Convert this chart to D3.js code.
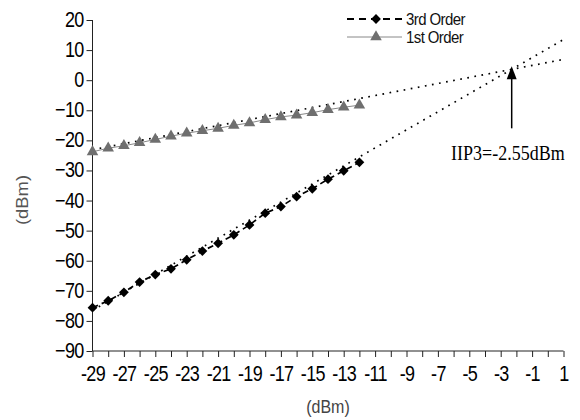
<!DOCTYPE html>
<html>
<head>
<meta charset="utf-8">
<script src="https://cdn.jsdelivr.net/npm/d3@7"></script>
<style>
  body { margin: 0; background: #fff; }
  text { font-family: "Liberation Sans", Arial, sans-serif; }
</style>
</head>
<body>
<div id="chart"></div>
<script>
// input power (dBm)
var inputPower = [-29, -28, -27, -26, -25, -24, -23, -22, -21, -20, -19, -18, -17, -16, -15, -14, -13, -12];
// measured output, 3rd order products
var thirdOrder = [-75.6, -73.3, -70.5, -67.1, -64.6, -62.7, -59.7, -56.8, -54.2, -51.4, -48.1, -44.2, -42.0, -38.7, -36.1, -32.9, -30.1, -27.3];
// measured output, fundamental
var firstOrder = [-23.8, -22.6, -21.8, -20.8, -19.7, -18.6, -17.6, -16.8, -16.0, -15.0, -14.2, -13.1, -12.2, -11.6, -10.8, -9.8, -9.0, -8.3];

// extrapolated lines (slope, intercept)
var trendThird = [3, 10.5];
var trendFirst = [1, 5.9];
var trendRange = [-29, 1];

var xTicks = d3.range(-29, 2, 1);
var xLabels = d3.range(-29, 2, 2);
var yTicks = d3.range(-90, 21, 10);
var iip3Label = "IIP3=-2.55dBm";

var width = 580,
    height = 420;

var svg = d3.select("#chart")
    .append("svg")
    .attr("width", width)
    .attr("height", height);

var x = d3.scaleLinear().domain([-29, 1]).range([92.5, 563.5]);
var y = d3.scaleLinear().domain([-90, 20]).range([351, 20]);

// axes
var xAxis = d3.axisBottom(x)
    .tickValues(xTicks)
    .tickSize(6)
    .tickFormat(function (d) { return xLabels.indexOf(d) >= 0 ? d : ""; });

var yAxis = d3.axisLeft(y)
    .tickValues(yTicks)
    .tickSize(6)
    .tickFormat(d3.format("d"));

var gx = svg.append("g")
    .attr("transform", "translate(0," + y(-90) + ")")
    .call(xAxis);
gx.select(".domain").attr("d", "M" + x(-29) + ",0H" + x(1));
gx.selectAll("text")
    .attr("y", 18.5)
    .attr("dy", "0.36em")
    .attr("transform", "scale(1,1.2)")
    .style("font-size", "18px")
    .style("letter-spacing", "-0.7px")
    .attr("fill", "#000");

var gy = svg.append("g")
    .attr("transform", "translate(" + x(-29) + ",0)")
    .call(yAxis);
gy.select(".domain").attr("d", "M0," + y(20) + "V" + y(-90));
gy.selectAll("text")
    .attr("x", -9)
    .attr("dy", "0.3em")
    .attr("transform", "scale(1,1.2)")
    .style("font-size", "18px")
    .style("letter-spacing", "-0.7px")
    .attr("fill", "#000");

svg.selectAll(".domain, .tick line").attr("stroke", "#222");

// axis titles
svg.append("text")
    .attr("transform", "translate(" + (x(-29) + x(1)) / 2 + ",413) scale(1,1.15)")
    .attr("text-anchor", "middle")
    .style("font-size", "16px")
    .attr("fill", "#444")
    .text("(dBm)");

svg.append("text")
    .attr("transform", "translate(28,200) rotate(-90) scale(1.15,1)")
    .attr("text-anchor", "middle")
    .style("font-size", "16px")
    .attr("fill", "#555")
    .text("(dBm)");

// trend lines (dotted)
function trendLine(t) {
    return trendRange.map(function (v) { return [x(v), y(t[0] * v + t[1])]; });
}
[trendThird, trendFirst].forEach(function (t) {
    svg.append("path")
        .attr("d", d3.line()(trendLine(t)))
        .attr("fill", "none")
        .attr("stroke", "#000")
        .attr("stroke-width", 1.7)
        .attr("stroke-dasharray", "1.7,5.5");
});

var line = d3.line()
    .x(function (d) { return x(d[0]); })
    .y(function (d) { return y(d[1]); });

var firstPts = inputPower.map(function (v, i) { return [v, firstOrder[i]]; });
var thirdPts = inputPower.map(function (v, i) { return [v, thirdOrder[i]]; });

// 1st order series
svg.append("path")
    .attr("d", line(firstPts))
    .attr("fill", "none")
    .attr("stroke", "#888")
    .attr("stroke-width", 1);

var tri = d3.symbol().type(d3.symbolTriangle).size(58);
svg.selectAll(".tri")
    .data(firstPts)
    .enter().append("path")
    .attr("class", "tri")
    .attr("d", tri)
    .attr("transform", function (d) { return "translate(" + x(d[0]) + "," + y(d[1]) + ")"; })
    .attr("fill", "#6f6f6f");

// 3rd order series
svg.append("path")
    .attr("d", line(thirdPts))
    .attr("fill", "none")
    .attr("stroke", "#000")
    .attr("stroke-width", 1.7)
    .attr("stroke-dasharray", "6,4");

var dia = d3.symbol().type(d3.symbolSquare).size(48);
svg.selectAll(".dia")
    .data(thirdPts)
    .enter().append("path")
    .attr("class", "dia")
    .attr("d", dia)
    .attr("transform", function (d) { return "translate(" + x(d[0]) + "," + y(d[1]) + ") rotate(45)"; })
    .attr("fill", "#000");

// IIP3 arrow at the intersection of the extrapolated lines
var ix = (trendFirst[1] - trendThird[1]) / (trendThird[0] - trendFirst[0]);
var iy = trendFirst[0] * ix + trendFirst[1];
var ax = x(ix);
svg.append("line")
    .attr("x1", ax).attr("x2", ax)
    .attr("y1", y(-16)).attr("y2", y(iy) + 8)
    .attr("stroke", "#000")
    .attr("stroke-width", 1.5);
svg.append("path")
    .attr("d", "M" + ax + "," + (y(iy) - 3) + "L" + (ax - 5) + "," + (y(iy) + 10) + "L" + (ax + 5) + "," + (y(iy) + 10) + "Z")
    .attr("fill", "#000");

svg.append("text")
    .attr("transform", "translate(451,160) scale(1,1.12)")
    .style("font-family", "'Liberation Serif', 'Times New Roman', serif")
    .style("font-size", "18px")
    .attr("fill", "#000")
    .text(iip3Label);

// legend
var legend = svg.append("g");
var legendItems = [
    { name: "3rd Order", y: 19, stroke: "#000", dash: "7,5", width: 1.9, sym: "dia" },
    { name: "1st Order", y: 37, stroke: "#888", dash: null, width: 1, sym: "tri" }
];
legendItems.forEach(function (d) {
    legend.append("line")
        .attr("x1", 347).attr("x2", 402)
        .attr("y1", d.y).attr("y2", d.y)
        .attr("stroke", d.stroke)
        .attr("stroke-width", d.width)
        .attr("stroke-dasharray", d.dash);
    legend.append("path")
        .attr("d", d.sym === "dia" ? dia() : tri())
        .attr("transform", "translate(376," + d.y + ")" + (d.sym === "dia" ? " rotate(45)" : ""))
        .attr("fill", d.sym === "dia" ? "#000" : "#6f6f6f");
    legend.append("text")
        .attr("transform", "translate(406," + (d.y + 5.5) + ") scale(1,1.08)")
        .style("font-size", "15px")
        .style("letter-spacing", "-0.6px")
        .attr("fill", "#111")
        .text(d.name);
});
</script>
</body>
</html>
